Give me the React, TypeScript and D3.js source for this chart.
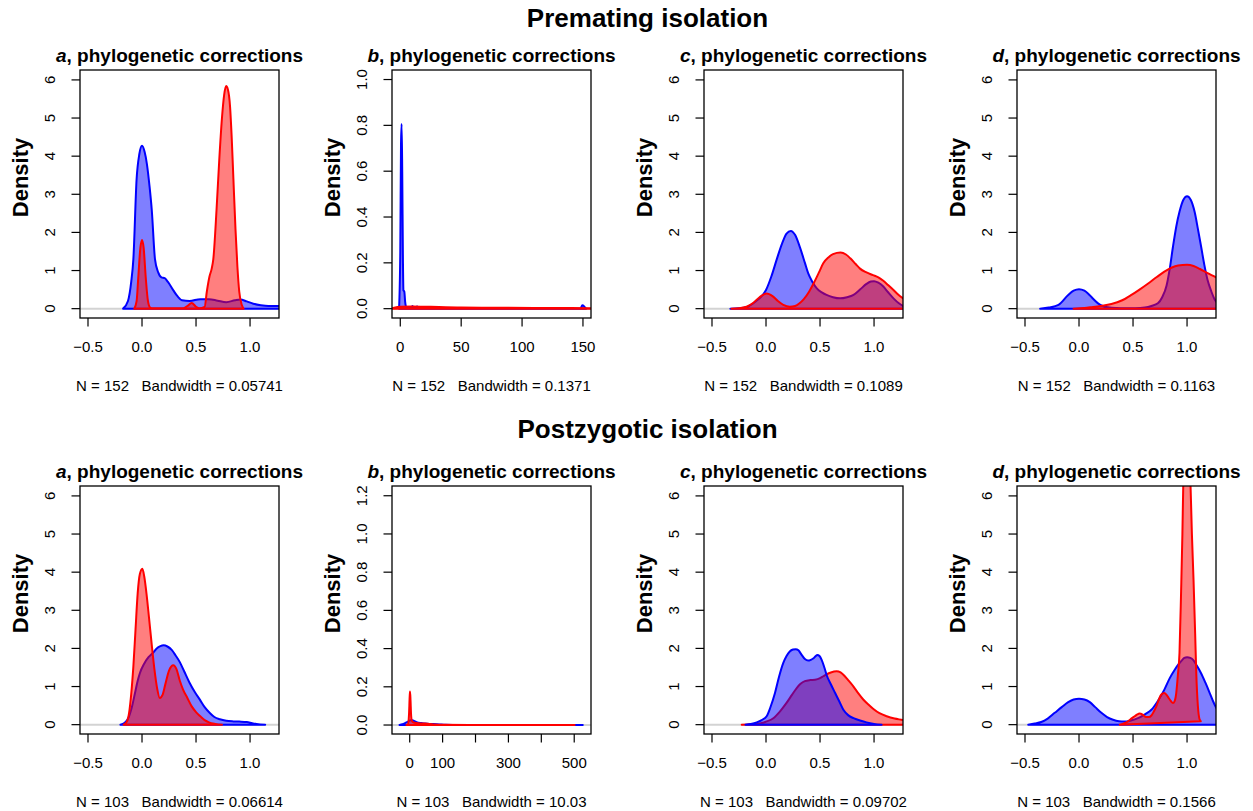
import React from 'react';
import * as d3 from 'd3';

type Pt = [number, number];

// ---- Density estimates (x, density) for each panel ----
// Premating isolation
const premA_blue: Pt[] = [[-0.175,0],[-0.13,0.2],[-0.1,0.7],[-0.08,1.3],[-0.05,3.4],[-0.025,4.05],[0,4.27],[0.025,4.1],[0.045,3.8],[0.07,3.2],[0.09,2.6],[0.12,1.3],[0.15,0.95],[0.18,0.82],[0.21,0.8],[0.24,0.7],[0.29,0.48],[0.33,0.32],[0.37,0.22],[0.44,0.2],[0.54,0.25],[0.62,0.25],[0.7,0.21],[0.78,0.17],[0.86,0.22],[0.91,0.24],[0.97,0.19],[1.03,0.13],[1.1,0.09],[1.17,0.07],[1.27,0.07],[1.35,0.04],[1.45,0]];
const premA_red: Pt[] = [[-0.072,0],[-0.05,0.2],[-0.035,0.8],[-0.015,1.6],[0,1.8],[0.015,1.6],[0.035,0.8],[0.055,0.2],[0.075,0.03],[0.1,0.01],[0.38,0.01],[0.42,0.07],[0.46,0.15],[0.5,0.05],[0.53,0.01],[0.58,0.05],[0.6,0.45],[0.625,0.85],[0.645,1.05],[0.66,1.3],[0.69,2.6],[0.715,3.9],[0.74,5.0],[0.76,5.6],[0.778,5.84],[0.795,5.75],[0.815,5.3],[0.83,4.5],[0.846,3.4],[0.865,2.1],[0.883,1.1],[0.9,0.45],[0.923,0.1],[0.94,0]];
const premB_blue: Pt[] = [[-1,0],[0,0.25],[0.6,0.72],[1.1,0.806],[1.6,0.6],[2.2,0.2],[2.6,0.08],[3.3,0.075],[4,0.03],[5,0.005],[9,0.003],[10,0.012],[11,0.003],[14,0.01],[15,0.002],[20,0],[148,0],[149.5,0.015],[151,0.01],[152.5,0]];
const premB_red: Pt[] = [[-8,0],[-5,0.004],[0,0.008],[10,0.01],[25,0.008],[50,0.005],[80,0.004],[110,0.003],[140,0.003],[158,0.002],[165,0]];
const premC_blue: Pt[] = [[-0.33,0],[-0.25,0.01],[-0.18,0.04],[-0.1,0.18],[-0.04,0.33],[0,0.49],[0.05,0.85],[0.1,1.3],[0.15,1.72],[0.19,1.97],[0.23,2.04],[0.27,1.93],[0.315,1.6],[0.36,1.2],[0.39,0.93],[0.43,0.7],[0.47,0.53],[0.52,0.42],[0.56,0.36],[0.62,0.3],[0.685,0.27],[0.75,0.3],[0.81,0.36],[0.87,0.5],[0.93,0.65],[0.97,0.71],[1.0,0.72],[1.04,0.68],[1.086,0.58],[1.13,0.43],[1.18,0.27],[1.23,0.14],[1.27,0.07],[1.33,0.02],[1.4,0]];
const premC_red: Pt[] = [[-0.32,0],[-0.25,0.01],[-0.18,0.05],[-0.12,0.15],[-0.06,0.3],[0.006,0.4],[0.06,0.33],[0.11,0.2],[0.16,0.1],[0.22,0.05],[0.27,0.07],[0.31,0.14],[0.35,0.25],[0.4,0.45],[0.44,0.66],[0.49,0.95],[0.53,1.19],[0.58,1.35],[0.62,1.43],[0.69,1.47],[0.74,1.42],[0.78,1.32],[0.83,1.17],[0.87,1.05],[0.93,0.95],[0.99,0.88],[1.04,0.82],[1.086,0.73],[1.13,0.62],[1.18,0.49],[1.22,0.38],[1.27,0.27],[1.35,0.13],[1.45,0.05],[1.55,0]];
const premD_blue: Pt[] = [[-0.36,0],[-0.28,0.03],[-0.19,0.1],[-0.1,0.36],[-0.05,0.47],[0,0.51],[0.05,0.47],[0.083,0.4],[0.13,0.26],[0.176,0.14],[0.22,0.07],[0.27,0.035],[0.35,0.015],[0.42,0.01],[0.52,0.012],[0.61,0.03],[0.67,0.07],[0.73,0.14],[0.77,0.3],[0.81,0.6],[0.84,1.05],[0.87,1.63],[0.9,2.15],[0.93,2.54],[0.965,2.85],[1.0,2.95],[1.035,2.85],[1.07,2.54],[1.1,2.1],[1.13,1.63],[1.16,1.15],[1.19,0.75],[1.225,0.45],[1.256,0.24],[1.3,0.1],[1.35,0.03],[1.42,0]];
const premD_red: Pt[] = [[-0.05,0],[0.05,0.02],[0.114,0.04],[0.2,0.07],[0.3,0.12],[0.4,0.22],[0.485,0.36],[0.56,0.5],[0.64,0.66],[0.72,0.83],[0.79,0.97],[0.86,1.08],[0.917,1.13],[1.0,1.15],[1.06,1.12],[1.12,1.04],[1.19,0.93],[1.27,0.82],[1.35,0.68],[1.45,0.48],[1.6,0.22],[1.75,0.07],[1.9,0.01],[2.0,0]];

// Postzygotic isolation
const postA_blue: Pt[] = [[-0.2,0],[-0.16,0.05],[-0.127,0.17],[-0.095,0.45],[-0.065,0.83],[-0.04,1.15],[-0.02,1.35],[0.02,1.6],[0.06,1.77],[0.1,1.88],[0.136,2.0],[0.17,2.06],[0.2,2.08],[0.235,2.05],[0.275,1.96],[0.31,1.82],[0.35,1.64],[0.39,1.4],[0.44,1.1],[0.49,0.85],[0.537,0.65],[0.58,0.46],[0.63,0.3],[0.67,0.2],[0.72,0.14],[0.78,0.1],[0.846,0.085],[0.9,0.08],[0.97,0.07],[1.02,0.04],[1.06,0.02],[1.14,0]];
const postA_red: Pt[] = [[-0.17,0],[-0.14,0.08],[-0.12,0.3],[-0.1,0.8],[-0.08,1.53],[-0.06,2.5],[-0.04,3.45],[-0.02,3.95],[0.003,4.09],[0.02,3.9],[0.043,3.4],[0.065,2.8],[0.09,2.1],[0.115,1.45],[0.14,0.95],[0.165,0.7],[0.19,0.78],[0.215,1.05],[0.25,1.42],[0.29,1.56],[0.32,1.45],[0.35,1.15],[0.38,0.92],[0.42,0.7],[0.46,0.48],[0.5,0.33],[0.54,0.22],[0.58,0.12],[0.62,0.06],[0.68,0.02],[0.74,0]];
const postB_blue: Pt[] = [[-31,0],[-22,0.004],[-14,0.01],[-5,0.018],[3,0.025],[8,0.025],[15,0.02],[21,0.015],[35,0.01],[46,0.008],[60,0.006],[72,0.005],[90,0.003],[110,0.001],[150,0],[526,0]];
const postB_red: Pt[] = [[-10,0],[-5,0.005],[-2,0.06],[0,0.15],[1,0.175],[2.5,0.13],[4,0.06],[6,0.025],[10,0.015],[20,0.01],[40,0.008],[60,0.006],[75,0.003],[100,0.001],[200,0.0005],[501,0]];
const postC_blue: Pt[] = [[-0.19,0],[-0.14,0.02],[-0.086,0.06],[-0.04,0.12],[0.006,0.22],[0.04,0.45],[0.083,0.83],[0.12,1.25],[0.16,1.62],[0.19,1.8],[0.22,1.92],[0.25,1.97],[0.275,1.98],[0.3,1.95],[0.33,1.83],[0.36,1.72],[0.39,1.68],[0.415,1.7],[0.44,1.74],[0.46,1.8],[0.475,1.83],[0.495,1.8],[0.515,1.7],[0.54,1.5],[0.56,1.31],[0.6,1.06],[0.64,0.83],[0.68,0.6],[0.716,0.39],[0.76,0.25],[0.81,0.17],[0.87,0.11],[0.93,0.06],[1.0,0.02],[1.07,0]];
const postC_red: Pt[] = [[-0.225,0],[-0.14,0.01],[-0.056,0.03],[0.0,0.08],[0.068,0.17],[0.13,0.35],[0.19,0.57],[0.24,0.78],[0.284,0.96],[0.32,1.07],[0.36,1.14],[0.41,1.17],[0.454,1.18],[0.5,1.22],[0.53,1.27],[0.56,1.32],[0.6,1.37],[0.654,1.4],[0.69,1.37],[0.716,1.31],[0.76,1.17],[0.81,1.0],[0.855,0.82],[0.9,0.66],[0.95,0.52],[0.994,0.41],[1.05,0.3],[1.117,0.22],[1.19,0.16],[1.27,0.12],[1.35,0.06],[1.45,0.02],[1.55,0]];
const postD_blue: Pt[] = [[-0.47,0],[-0.41,0.03],[-0.35,0.07],[-0.29,0.16],[-0.225,0.31],[-0.16,0.46],[-0.1,0.59],[-0.05,0.66],[0,0.68],[0.05,0.66],[0.1,0.59],[0.15,0.46],[0.207,0.31],[0.26,0.2],[0.315,0.13],[0.37,0.09],[0.42,0.08],[0.48,0.11],[0.546,0.17],[0.61,0.27],[0.67,0.39],[0.73,0.62],[0.79,0.92],[0.84,1.22],[0.886,1.44],[0.92,1.58],[0.95,1.68],[0.975,1.75],[1.0,1.77],[1.03,1.75],[1.056,1.7],[1.09,1.55],[1.13,1.35],[1.17,1.1],[1.21,0.83],[1.24,0.62],[1.27,0.44],[1.31,0.27],[1.35,0.15],[1.4,0.07],[1.45,0.03],[1.55,0]];
const postD_red: Pt[] = [[0.377,0],[0.42,0.04],[0.454,0.09],[0.49,0.17],[0.515,0.22],[0.54,0.27],[0.56,0.29],[0.59,0.26],[0.62,0.2],[0.645,0.2],[0.67,0.24],[0.695,0.36],[0.716,0.48],[0.74,0.67],[0.762,0.79],[0.79,0.83],[0.81,0.78],[0.83,0.7],[0.85,0.62],[0.87,0.57],[0.885,0.62],[0.9,0.83],[0.915,1.3],[0.93,1.88],[0.945,3.5],[0.957,5.0],[0.965,6.3],[0.98,7.2],[1.0,7.4],[1.02,7.2],[1.03,6.5],[1.045,5.0],[1.06,3.8],[1.075,2.4],[1.086,1.3],[1.1,0.5],[1.115,0.15],[1.127,0.09]];

// ---- Labels and ticks ----
const rowTitles = ['Premating isolation', 'Postzygotic isolation'];
const panelLetters = ['a', 'b', 'c', 'd'];
const sampleSizes = [152, 103];
const bandwidths = [
  ['0.05741', '0.1371', '0.1089', '0.1163'],
  ['0.06614', '10.03', '0.09702', '0.1566'],
];
const unitXTicks = [-0.5, 0, 0.5, 1.0];
const unitYTicks = [0, 1, 2, 3, 4, 5, 6];
const premBXTicks = [0, 50, 100, 150];
const premBYTicks = [0, 0.2, 0.4, 0.6, 0.8, 1.0];
const postBXTicks = [0, 100, 200, 300, 400, 500];
const postBXShown = [true, true, false, true, false, true];
const postBYTicks = [0, 0.2, 0.4, 0.6, 0.8, 1.0, 1.2];

const FONT = '"Liberation Sans", Arial, Helvetica, sans-serif';
const fmt1 = d3.format('.1f');
const fmt0 = d3.format('d');

interface PanelCfg {
  xDomain: [number, number];
  yDomain: [number, number];
  xTicks: number[];
  xShown?: boolean[];
  xFmt: (v: number) => string;
  yTicks: number[];
  yFmt: (v: number) => string;
  blue: Pt[];
  red: Pt[];
  blueOnTop?: boolean;
}

const unitX: [number, number] = [-0.574, 1.268];
const unitY: [number, number] = [-0.245, 6.26];

const rows: PanelCfg[][] = [
  [
    { xDomain: unitX, yDomain: unitY, xTicks: unitXTicks, xFmt: fmt1, yTicks: unitYTicks, yFmt: fmt0, blue: premA_blue, red: premA_red },
    { xDomain: [-6.8, 156.6], yDomain: [-0.0407, 1.0416], xTicks: premBXTicks, xFmt: fmt0, yTicks: premBYTicks, yFmt: fmt1, blue: premB_blue, red: premB_red },
    { xDomain: unitX, yDomain: unitY, xTicks: unitXTicks, xFmt: fmt1, yTicks: unitYTicks, yFmt: fmt0, blue: premC_blue, red: premC_red },
    { xDomain: unitX, yDomain: unitY, xTicks: unitXTicks, xFmt: fmt1, yTicks: unitYTicks, yFmt: fmt0, blue: premD_blue, red: premD_red },
  ],
  [
    { xDomain: unitX, yDomain: unitY, xTicks: unitXTicks, xFmt: fmt1, yTicks: unitYTicks, yFmt: fmt0, blue: postA_blue, red: postA_red },
    { xDomain: [-53.8, 551], yDomain: [-0.047, 1.251], xTicks: postBXTicks, xShown: postBXShown, xFmt: fmt0, yTicks: postBYTicks, yFmt: fmt1, blue: postB_blue, red: postB_red },
    { xDomain: unitX, yDomain: unitY, xTicks: unitXTicks, xFmt: fmt1, yTicks: unitYTicks, yFmt: fmt0, blue: postC_blue, red: postC_red, blueOnTop: true },
    { xDomain: unitX, yDomain: unitY, xTicks: unitXTicks, xFmt: fmt1, yTicks: unitYTicks, yFmt: fmt0, blue: postD_blue, red: postD_red },
  ],
];

const colLeft = [80, 392, 704, 1017];
const rowTop = [70, 486];
const rowTitleY = [27, 438];
const boxW = 199;
const boxH = 248;
const TICK = 8.5;

function Panel({ cfg, left, top, id, letter, nText }: { cfg: PanelCfg; left: number; top: number; id: string; letter: string; nText: string }) {
  const x = d3.scaleLinear().domain(cfg.xDomain).range([0, boxW]);
  const y = d3.scaleLinear().domain(cfg.yDomain).range([boxH, 0]);
  const line = d3.line<Pt>().x(d => x(d[0])).y(d => y(d[1])).curve(d3.curveMonotoneX);
  const area = (pts: Pt[]) => (line(pts) || '') + 'Z';

  const bluePath = <path key="b" d={area(cfg.blue)} fill="rgba(0,0,255,0.5)" stroke="#0000ff" strokeWidth={2} strokeLinejoin="round" />;
  const redPath = <path key="r" d={area(cfg.red)} fill="rgba(255,0,0,0.5)" stroke="#ff0000" strokeWidth={2} strokeLinejoin="round" />;

  return (
    <g transform={`translate(${left},${top})`}>
      <defs>
        <clipPath id={id}>
          <rect x={0} y={0} width={boxW} height={boxH} />
        </clipPath>
      </defs>
      <g clipPath={`url(#${id})`}>
        <line x1={0} x2={boxW} y1={y(0)} y2={y(0)} stroke="#d3d3d3" strokeWidth={2} />
        {cfg.blueOnTop ? [redPath, bluePath] : [bluePath, redPath]}
      </g>
      <rect x={0} y={0} width={boxW} height={boxH} fill="none" stroke="#000" strokeWidth={1.3} />

      {/* y axis */}
      {cfg.yTicks.map((t, i) => (
        <g key={`y${i}`}>
          <line x1={-TICK} x2={0} y1={y(t)} y2={y(t)} stroke="#000" strokeWidth={1.2} />
          <text transform={`translate(-25,${y(t)}) rotate(-90)`} textAnchor="middle" fontSize={15}>
            {cfg.yFmt(t)}
          </text>
        </g>
      ))}

      {/* x axis */}
      {cfg.xTicks.map((t, i) => (
        <g key={`x${i}`}>
          <line x1={x(t)} x2={x(t)} y1={boxH} y2={boxH + TICK} stroke="#000" strokeWidth={1.2} />
          {(!cfg.xShown || cfg.xShown[i]) && (
            <text x={x(t)} y={boxH + 33.7} textAnchor="middle" fontSize={15}>
              {cfg.xFmt(t)}
            </text>
          )}
        </g>
      ))}

      <text transform={`translate(-52.5,${107.5}) rotate(-90)`} textAnchor="middle" fontSize={22} fontWeight="bold">
        Density
      </text>

      <text x={boxW / 2} y={-8} textAnchor="middle" fontSize={19} fontWeight="bold">
        <tspan fontStyle="italic">{letter}</tspan>, phylogenetic corrections
      </text>

      <text x={boxW / 2} y={boxH + 73} textAnchor="middle" fontSize={15} style={{ whiteSpace: 'pre' }}>
        {nText}
      </text>
    </g>
  );
}

export default function App() {
  const W = 1253;
  const H = 811;
  return (
    <svg width={W} height={H} style={{ position: 'absolute', left: 0, top: 0 }} fontFamily={FONT}>
      <rect width={W} height={H} fill="#fff" />
      {rows.map((panels, ri) => (
        <g key={ri}>
          <text x={647.5} y={rowTitleY[ri]} textAnchor="middle" fontSize={26} fontWeight="bold">
            {rowTitles[ri]}
          </text>
          {panels.map((cfg, ci) => (
            <Panel
              key={ci}
              cfg={cfg}
              left={colLeft[ci]}
              top={rowTop[ri]}
              id={`clip-${ri}-${ci}`}
              letter={panelLetters[ci]}
              nText={`N = ${sampleSizes[ri]}   Bandwidth = ${bandwidths[ri][ci]}`}
            />
          ))}
        </g>
      ))}
    </svg>
  );
}
